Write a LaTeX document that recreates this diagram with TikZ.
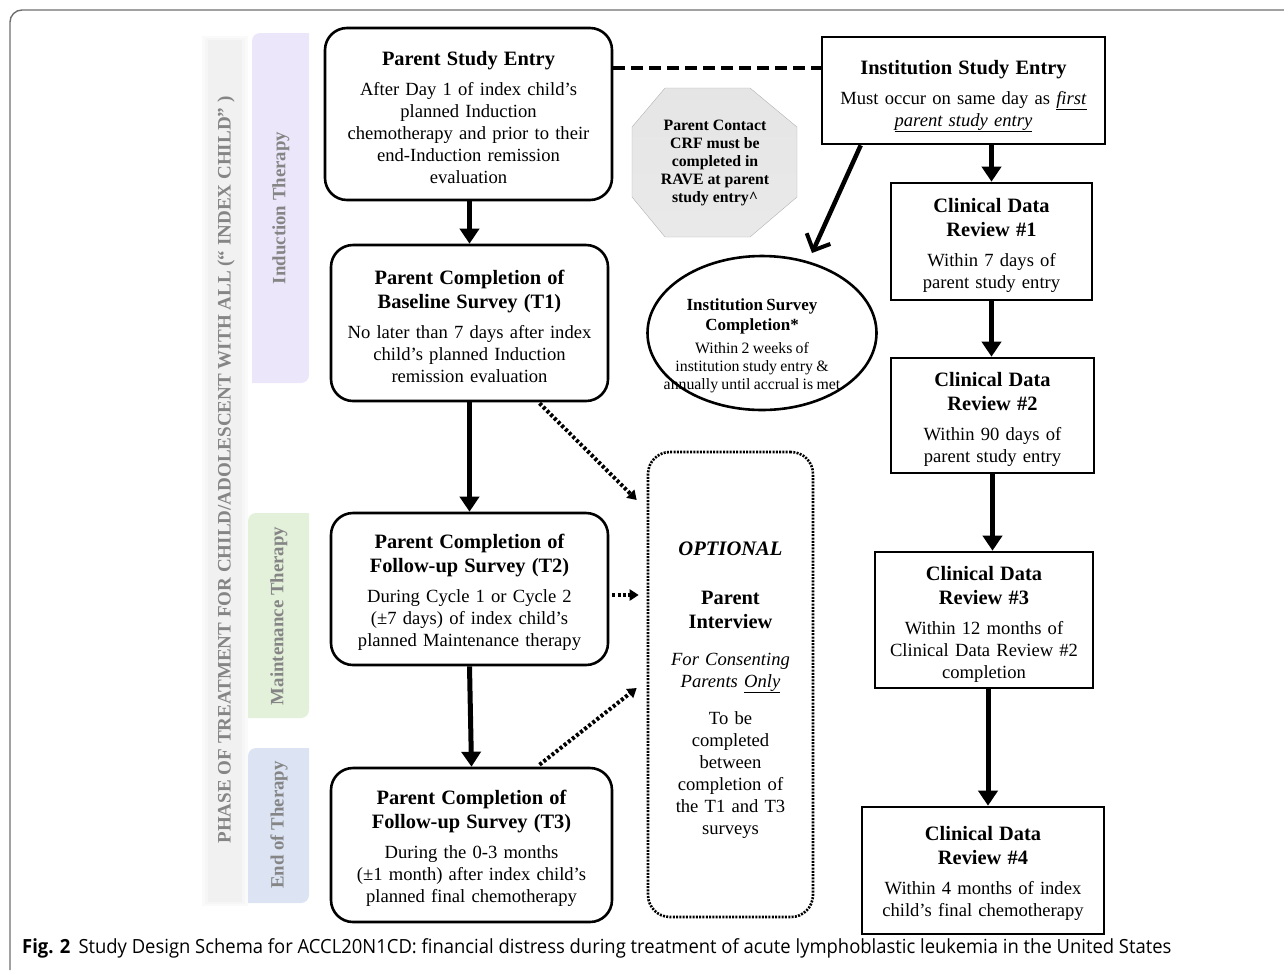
\documentclass[tikz,border=0pt]{standalone}
\usepackage{fontspec}
\setmainfont{Liberation Serif}
\newfontfamily\capfont[FakeStretch=0.945]{Open Sans}
\usetikzlibrary{arrows.meta,shapes.geometric,calc}
\definecolor{indc}{HTML}{ECE6FA}
\definecolor{mntc}{HTML}{E3F0DA}
\definecolor{eotc}{HTML}{DCE4F4}
\definecolor{phtxt}{HTML}{858585}
\definecolor{framec}{HTML}{6E6E6E}
\definecolor{octfill}{HTML}{D4D4D4}
\newcommand\bodyf{\fontsize{18.6}{22}\selectfont}
% optional argument: extra room above the first line (shifts the text down)
\newcommand\ttl[2][3pt]{{\fontsize{20.4}{24}\selectfont\bfseries\rule{0pt}{\dimexpr18.2pt+#1\relax}#2\par}\vspace{8pt}}
\tikzset{
  box/.style={draw, line width=2.6pt, align=center, inner sep=0pt, font=\bodyf},
  rbox/.style={box, rounded corners=22pt},
  arr/.style={line width=5pt, -{Triangle[length=15pt,width=19pt]}},
  dotarr/.style={line width=4pt, dash pattern=on 3pt off 2.2pt, -{Triangle[length=9pt,width=11pt]}},
  phlabel/.style={rotate=90, text=phtxt, font=\fontsize{18.8}{20}\selectfont\bfseries},
}
\begin{document}
\begin{tikzpicture}[x=1pt,y=-1pt]
\useasboundingbox (0,0) rectangle (1284,970);
% outer frame
\draw[framec, line width=1.4pt, rounded corners=12pt] (10,970) -- (10,10) -- (1284,10);
% main phase bar with soft edge
\fill[gray!4] (202,36) rectangle (248,906);
\fill[gray!7] (205,38) rectangle (245,904);
\fill[gray!11] (208,40) rectangle (242,902);
\node[phlabel, font=\fontsize{19.05}{20}\selectfont\bfseries] (phase) at (226,470) {PHASE OF TREATMENT FOR CHILD/ADOLESCENT WITH ALL (“ INDEX CHILD” )};
% phase bars
\fill[indc] (309,33) [rounded corners=8pt] -- (252,33) [sharp corners] -- (252,383) [rounded corners=8pt] -- (309,383) [sharp corners] -- cycle;
\fill[mntc] (309,513) [rounded corners=8pt] -- (248,513) [sharp corners] -- (248,718) [rounded corners=8pt] -- (309,718) [sharp corners] -- cycle;
\fill[eotc] (309,748) [rounded corners=8pt] -- (248,748) [sharp corners] -- (248,903) [rounded corners=8pt] -- (309,903) [sharp corners] -- cycle;
\node[phlabel] (ind) at (281,208) {Induction Therapy};
\node[phlabel] (mnt) at (279,616) {Maintenance Therapy};
\node[phlabel] (eot) at (279,825) {End of Therapy};

% left column
\node[rbox, minimum width=287pt, minimum height=172pt, text width=282pt] (pse) at (468.5,114)
 {\ttl{Parent Study Entry}After Day 1 of index child's\\planned Induction\\chemotherapy and prior to their\\end-Induction remission\\evaluation};
\node[rbox, minimum width=277pt, minimum height=156pt, text width=272pt] (t1) at (469.5,323)
 {\ttl[2pt]{Parent Completion of\\Baseline Survey (T1)}No later than 7 days after index\\child's planned Induction\\remission evaluation};
\node[rbox, minimum width=277pt, minimum height=152pt, text width=272pt] (t2) at (469.5,589)
 {\ttl{Parent Completion of\\Follow-up Survey (T2)}During Cycle 1 or Cycle 2\\(±7 days) of index child's\\planned Maintenance therapy};
\node[rbox, minimum width=281pt, minimum height=154pt, text width=276pt] (t3) at (471.5,845)
 {\ttl{Parent Completion of\\Follow-up Survey (T3)}During the 0-3 months\\(±1 month) after index child's\\planned final chemotherapy};

% right column
\node[box, minimum width=283pt, minimum height=107pt, text width=278pt] (ise) at (963.5,90.5)
 {\ttl[7pt]{Institution Study Entry}Must occur on same day as \underline{\textit{first}}\\\underline{\textit{parent study entry}}};
\node[box, minimum width=201pt, minimum height=117pt, text width=196pt] (c1) at (991.5,241.5)
 {\ttl[4pt]{Clinical Data\\Review \#1}Within 7 days of\\parent study entry};
\node[box, minimum width=203pt, minimum height=115pt, text width=198pt] (c2) at (992.5,415.5)
 {\ttl[4pt]{Clinical Data\\Review \#2}Within 90 days of\\parent study entry};
\node[box, minimum width=218pt, minimum height=136pt, text width=213pt] (c3) at (984,620)
 {\ttl[4pt]{Clinical Data\\Review \#3}Within 12 months of\\Clinical Data Review \#2\\completion};
\node[box, minimum width=242pt, minimum height=127pt, text width=237pt] (c4) at (983,870.5)
 {\ttl[2pt]{Clinical Data\\Review \#4}Within 4 months of index\\child's final chemotherapy};

% octagon
\shade[top color=octfill!60, bottom color=octfill!110!black, draw=gray!60] (665,88) -- (750,88) -- (797,127) -- (797,197) -- (750,237) -- (665,237) -- (632,197) -- (632,127) -- cycle;
\node[align=center, font=\fontsize{15.8}{18}\selectfont\bfseries] (oct) at (715,163)
 {Parent Contact\\CRF must be\\completed in\\RAVE at parent\\study entry\textasciicircum};

% ellipse
\node[ellipse, draw, line width=2.6pt, minimum width=229pt, minimum height=154pt, inner sep=0pt] (ell) at (762,333) {};
\node[align=center, text width=220pt, inner sep=0pt] (elltxt) at (752,346)
 {{\fontsize{17}{20}\selectfont\bfseries Institution Survey\\Completion*\par}\vspace{5pt}
  {\fontsize{15.8}{18}\selectfont Within 2 weeks of\\institution study entry \&\\annually until accrual is met\par}};

% optional box
\node[rbox, dash pattern=on 2pt off 1.3pt, minimum width=165pt, minimum height=465pt, text width=160pt] (opt) at (730.5,684.5)
 {{\fontsize{20.6}{24}\selectfont\bfseries\itshape\rule{0pt}{24.5pt}OPTIONAL\par}\vspace{25pt}
  {\fontsize{20.4}{24}\selectfont\bfseries Parent\\Interview\par}\vspace{15pt}
  {\itshape For Consenting\\Parents \underline{Only}\par}\vspace{15pt}
  To be\\completed\\between\\completion of\\the T1 and T3\\surveys};

% connectors
\draw[arr] (pse.south -| t1.north) -- (t1.north);
\draw[arr] (t1.south) -- (t2.north);
\draw[arr] (t2.south) -- (t3.north);
\draw[arr] (ise.south -| c1.north) -- (c1.north);
\draw[arr] (c1.south) -- (c1.south |- c2.north);
\draw[arr] (c2.south) -- (c2.south |- c3.north);
\draw[arr] ($(c3.south)+(4,0)$) -- ($(c3.south |- c4.north)+(4,0)$);
\draw[line width=4pt, dash pattern=on 12pt off 6pt] (pse.east |- 0,68) -- (ise.west |- 0,68);
\draw[line width=4.5pt, -{Straight Barb[length=13pt,width=26pt,line width=4pt]}] ($(ise.south west)+(40,0)$) -- ($(ell.center)+(50,-80)$);
\draw[dotarr] ($(t1.south)+(70,1)$) -- ($(opt.west)+(-10,-184.5)$);
\draw[dotarr] ($(t2.east)+(3,6)$) -- ($(opt.west |- t2.east)+(-8,6)$);
\draw[dotarr] ($(t3.north)+(68,-2)$) -- ($(opt.west)+(-10,3.5)$);

% caption
\node[anchor=west, inner sep=0pt, font=\capfont\fontsize{19.5}{22}\selectfont] (cap) at (22,948)
 {\textbf{Fig. 2}\hspace{8pt}Study Design Schema for ACCL20N1CD: financial distress during treatment of acute lymphoblastic leukemia in the United States};
\end{tikzpicture}
\end{document}
